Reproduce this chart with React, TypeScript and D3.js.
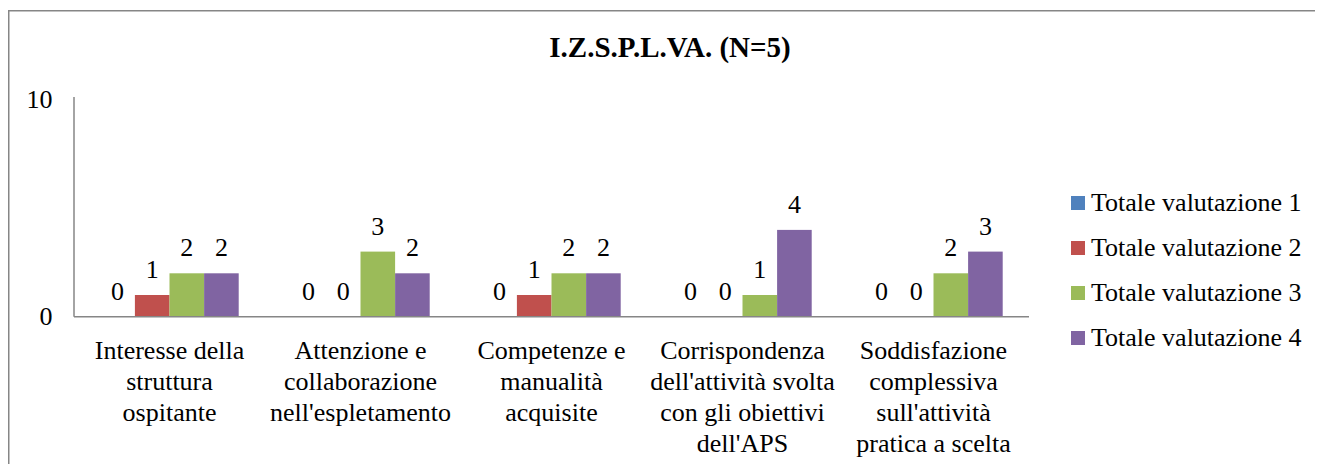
// Chart: I.Z.S.P.L.VA. (N=5), grouped bars, Times-like serif text
import React from "react";
import * as d3 from "d3";

const title = "I.Z.S.P.L.VA. (N=5)";
const categories = [
  "Interesse della\nstruttura\nospitante",
  "Attenzione e\ncollaborazione\nnell'espletamento",
  "Competenze e\nmanualità\nacquisite",
  "Corrispondenza\ndell'attività svolta\ncon gli obiettivi\ndell'APS",
  "Soddisfazione\ncomplessiva\nsull'attività\npratica a scelta",
];
const seriesNames = [
  "Totale valutazione 1",
  "Totale valutazione 2",
  "Totale valutazione 3",
  "Totale valutazione 4",
];
const valutazione1 = [0, 0, 0, 0, 0];
const valutazione2 = [1, 0, 1, 0, 0];
const valutazione3 = [2, 3, 2, 1, 2];
const valutazione4 = [2, 2, 2, 4, 3];
const seriesValues = [valutazione1, valutazione2, valutazione3, valutazione4];
const colors = ["#4F81BD", "#C0504D", "#9BBB59", "#8064A2"];
const yTicks = [0, 10];

const SERIF = "Liberation Serif";

export default function App() {
  const W = 1315;
  const H = 456;
  const plotLeft = 66;
  const plotRight = 1021;
  const yBase = 308.7;
  const yTop = 91.7;

  const x0 = d3.scaleBand<number>().domain(d3.range(categories.length)).range([plotLeft, plotRight]).padding(0);
  const x1 = d3
    .scaleBand<number>()
    .domain(d3.range(seriesNames.length))
    .range([0, x0.bandwidth()])
    .paddingInner(0)
    .paddingOuter(0.76);
  const y = d3.scaleLinear().domain([0, 10]).range([yBase, yTop]);

  const axisColor = "#868686";

  return (
    <svg width={W} height={H} style={{ display: "block", fontFamily: '"Liberation Serif", serif' }}>
      <style>{`text, tspan { font-family: "Liberation Serif", "Times New Roman", Tinos, serif; }`}</style>
      <path d={`M0.75,${H}V2.75H${W}`} fill="none" stroke={axisColor} strokeWidth={1.5} />
      <text x={662} y={49} textAnchor="middle" fontSize={29} fontWeight="bold" fill="#000" fontFamily={SERIF}>
        {title}
      </text>

      {yTicks.map((t) => (
        <text key={t} x={44.5} y={y(t) + 8.5} textAnchor="end" fontSize={26} fill="#000" fontFamily={SERIF}>
          {t}
        </text>
      ))}

      {categories.map((c, ci) =>
        seriesValues.map((vals, si) => {
          const v = vals[ci];
          const bx = (x0(ci) as number) + (x1(si) as number);
          const bw = x1.bandwidth();
          return (
            <g key={`${ci}-${si}`}>
              {v > 0 && <rect x={bx} y={y(v)} width={bw} height={y(0) - y(v)} fill={colors[si]} />}
              <text x={bx + bw / 2} y={y(v) - 17} textAnchor="middle" fontSize={26} fill="#000" fontFamily={SERIF}>
                {v}
              </text>
            </g>
          );
        })
      )}

      <line x1={plotLeft} x2={plotLeft} y1={89} y2={yBase} stroke={axisColor} strokeWidth={1.5} />
      <line x1={plotLeft} x2={plotRight} y1={yBase} y2={yBase} stroke={axisColor} strokeWidth={1.5} />

      {categories.map((c, ci) => {
        const cx = (x0(ci) as number) + x0.bandwidth() / 2;
        return (
          <text key={ci} textAnchor="middle" fontSize={26} fill="#000" fontFamily={SERIF}>
            {c.split("\n").map((line, li) => (
              <tspan key={li} x={cx} y={351 + li * 31}>
                {line}
              </tspan>
            ))}
          </text>
        );
      })}

      {seriesNames.map((s, i) => (
        <g key={s}>
          <rect x={1063} y={188 + i * 45} width={14} height={14} fill={colors[i]} />
          <text x={1083} y={202.5 + i * 45} fontSize={26} fill="#000" fontFamily={SERIF}>
            {s}
          </text>
        </g>
      ))}
    </svg>
  );
}
